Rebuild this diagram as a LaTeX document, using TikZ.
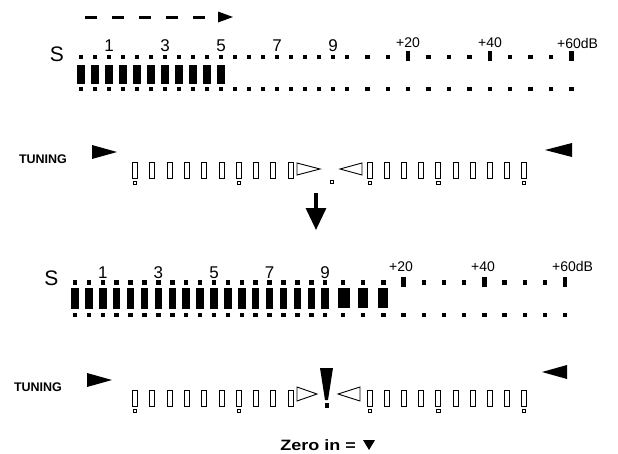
\documentclass[tikz,border=0pt]{standalone}
\usepackage{fontspec}
\setmainfont{Liberation Sans}
\usetikzlibrary{arrows.meta}
\newcommand\tunrow[1]{%
  \foreach \k in {0,...,9} {
    \draw[seg] ({135+17.3*\k-2.5},#1) rectangle ++(5,16);
    \draw[seg] ({370+17.1*\k-2.5},#1) rectangle ++(5,16);
  }
  \foreach \k in {0,6} {\draw[mk] ({135+17.3*\k-1.6},#1+19) rectangle ++(3.2,3.2);}
  \foreach \k in {0,4,9} {\draw[mk] ({370+17.1*\k-1.6},#1+19) rectangle ++(3.2,3.2);}
}
\begin{document}
\begin{tikzpicture}[x=1pt,y=-1pt,
  seg/.style={line width=0.9pt},
  mk/.style={line width=0.8pt},
  lbl/.style={inner sep=0pt,font=\fontsize{17}{17}\selectfont},
  dblbl/.style={inner sep=0pt,font=\fontsize{14}{14}\selectfont},
  slbl/.style={inner sep=0pt,font=\fontsize{21}{21}\selectfont},
  tunlbl/.style={inner sep=0pt,font=\bfseries\fontsize{12.5}{12.5}\selectfont},
]
\useasboundingbox (0,0) rectangle (618,453);
\fill[white] (0,0) rectangle (618,453);

% ---------- top dashed arrow ----------
\coordinate (da1) at (85,17);
\coordinate (da2) at (207,17);
\draw[line width=3pt,dash pattern=on 12pt off 15pt] (da1) -- (da2);
\fill (218,11.5) -- (233,17) -- (218,22.5) -- cycle;

% ---------- first S-meter ----------
\node[slbl] (s1) at (57,54) {S};
\foreach \k in {0,...,19} {
  \fill ({81+14*\k-2.25},54.75) rectangle ++(4.5,4.5);
  \fill ({81+14*\k-2.25},86.75) rectangle ++(4.5,4.5);
}
\foreach \k in {1,2,4,5,6,8,9,10} {
  \fill ({347+20.4*\k-2.25},54.75) rectangle ++(4.5,4.5);
}
\foreach \k in {3,7,11} {
  \fill ({347+20.4*\k-2.25},51) rectangle ++(4.5,10);
}
\foreach \k in {1,...,11} {
  \fill ({347+20.4*\k-2.25},86.75) rectangle ++(4.5,4.5);
}
\foreach \k in {0,...,10} {
  \fill ({81+14*\k-3.75},65) rectangle ++(7.5,19);
}
\foreach \n/\k in {1/2,3/6,5/10,7/14,9/18} {
  \node[lbl] (ma\n) at ({81+14*\k},46) {\n};
}
\node[dblbl] (ma20) at (408,43) {+20};
\node[dblbl] (ma40) at (490,43) {+40};
\node[dblbl,anchor=west] (ma60) at (557,43) {+60dB};

% ---------- first tuning row ----------
\node[tunlbl] (tun1) at (43,159) {TUNING};
\fill (92,145) -- (117,152) -- (92,159) -- cycle;
\fill (572,143) -- (545,150) -- (572,157) -- cycle;
\tunrow{162}
\draw[seg] (297,163) -- (320,169) -- (297,175) -- cycle;
\draw[seg] (362,163) -- (340,169) -- (362,175) -- cycle;
\draw[mk] (330.4,180.4) rectangle ++(3.2,3.2);

% ---------- down arrow ----------
\coordinate (arrtop) at (316,193);
\coordinate (arrbot) at (316,230);
\draw[line width=3.2pt,-{Triangle[width=20pt,length=22pt]}] (arrtop) -- (arrbot);

% ---------- second S-meter ----------
\node[slbl] (s2) at (51.5,278.5) {S};
\foreach \k in {0,...,18} {
  \fill ({75+13.9*\k-2.25},280.25) rectangle ++(4.5,4.5);
  \fill ({75+13.9*\k-2.25},312.75) rectangle ++(4.5,4.5);
  \fill ({75+13.9*\k-3.75},288) rectangle ++(7.5,21);
}
\foreach \k in {0,1,2,4,5,6,8,9,10} {
  \fill ({343+20.2*\k-2.25},280.25) rectangle ++(4.5,4.5);
}
\foreach \k in {3,7,11} {
  \fill ({343+20.2*\k-2.25},276.5) rectangle ++(4.5,10);
}
\foreach \k in {0,...,11} {
  \fill ({343+20.2*\k-2.25},312.75) rectangle ++(4.5,4.5);
}
\fill (338,288) rectangle (350,308);
\fill (358,288) rectangle (368,308);
\fill (378,288) rectangle (388,308);
\foreach \n/\k in {1/2,3/6,5/10,7/14,9/18} {
  \node[lbl] (mb\n) at ({75+13.9*\k},272.5) {\n};
}
\node[dblbl] (mb20) at (401,267) {+20};
\node[dblbl] (mb40) at (483,267) {+40};
\node[dblbl,anchor=west] (mb60) at (552,266) {+60dB};

% ---------- second tuning row ----------
\node[tunlbl] (tun2) at (38,387) {TUNING};
\fill (87,373) -- (112,380) -- (87,387) -- cycle;
\fill (567,365) -- (542,372) -- (567,379) -- cycle;
\tunrow{390}
\draw[seg] (297,387) -- (317,394) -- (297,401) -- cycle;
\draw[seg] (360,387) -- (338,394) -- (360,401) -- cycle;
\fill (320,368) -- (333,368) -- (328,400) -- (325,400) -- cycle;
\fill (324.5,403) rectangle (328.5,408);

% ---------- legend ----------
\node[inner sep=0pt,anchor=east,font=\bfseries\fontsize{15}{15}\selectfont] (zero) at (356,445) {\scalebox{1.2}[1]{Zero in =}};
\fill (363,440) -- (375,440) -- (369,450) -- cycle;
\end{tikzpicture}
\end{document}
